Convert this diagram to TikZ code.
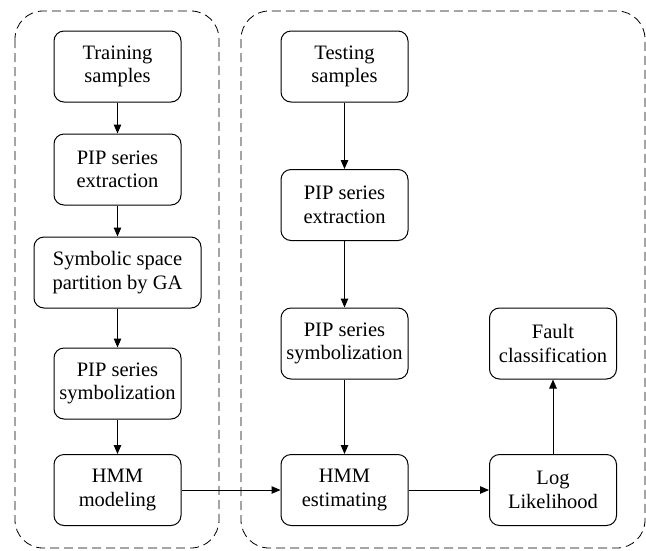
\documentclass[tikz,border=0pt]{standalone}
\usepackage{fontspec}
\setmainfont{Liberation Serif}
\usetikzlibrary{arrows.meta}
\begin{document}
\begin{tikzpicture}[x=1pt,y=-1pt,
  stepbox/.style={draw, line width=1pt, rounded corners=10pt, minimum width=127pt, minimum height=71pt, align=center, inner sep=0pt, font=\fontsize{20.5}{23.5}\selectfont},
  grp/.style={draw, dash pattern=on 9pt off 5pt, line width=0.8pt, rounded corners=28pt},
  arr/.style={-{Triangle[length=9pt,width=7.5pt]}, line width=1pt}]
\useasboundingbox (0,0) rectangle (646,550);
\draw[grp] (15,11) rectangle (219,548);
\draw[grp] (241,11) rectangle (645,548);
\node[stepbox] (train) at (117.5,66.5) {Training\\samples};
\node[stepbox] (pipe1) at (117.5,169.5) {PIP series\\extraction};
\node[stepbox, minimum width=167pt] (sym) at (117.5,272.5) {Symbolic space\\partition by GA};
\node[stepbox] (pips1) at (117.5,383.5) {PIP series\\symbolization};
\node[stepbox] (hmm1) at (117.5,490) {HMM\\modeling};
\node[stepbox] (test) at (344.5,66.5) {Testing\\samples};
\node[stepbox] (pipe2) at (344.5,205) {PIP series\\extraction};
\node[stepbox] (pips2) at (344.5,343.5) {PIP series\\symbolization};
\node[stepbox] (hmm2) at (344.5,490) {HMM\\estimating};
\node[stepbox] (log) at (553,490) {Log\\Likelihood};
\node[stepbox] (fault) at (553,343.5) {Fault\\classification};
\draw[arr] (train) -- (pipe1);
\draw[arr] (pipe1) -- (sym);
\draw[arr] (sym) -- (pips1);
\draw[arr] (pips1) -- (hmm1);
\draw[arr] (hmm1) -- (hmm2);
\draw[arr] (test) -- (pipe2);
\draw[arr] (pipe2) -- (pips2);
\draw[arr] (pips2) -- (hmm2);
\draw[arr] (hmm2) -- (log);
\draw[arr] (log) -- (fault);
\end{tikzpicture}
\end{document}
